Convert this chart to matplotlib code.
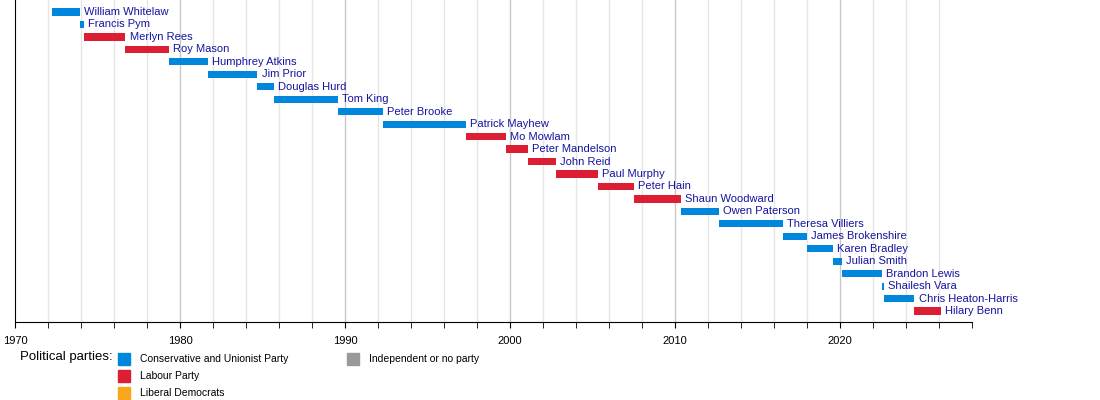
import matplotlib
matplotlib.use("Agg")
import matplotlib.pyplot as plt
from matplotlib.patches import Rectangle

plt.rcParams['font.family'] = ['Liberation Sans', 'DejaVu Sans']

# Secretaries of State for Northern Ireland (decimal years)
names = ["William Whitelaw", "Francis Pym", "Merlyn Rees", "Roy Mason",
         "Humphrey Atkins", "Jim Prior", "Douglas Hurd", "Tom King",
         "Peter Brooke", "Patrick Mayhew", "Mo Mowlam", "Peter Mandelson",
         "John Reid", "Paul Murphy", "Peter Hain", "Shaun Woodward",
         "Owen Paterson", "Theresa Villiers", "James Brokenshire",
         "Karen Bradley", "Julian Smith", "Brandon Lewis", "Shailesh Vara",
         "Chris Heaton-Harris", "Hilary Benn"]
starts = [1972.23, 1973.92, 1974.17, 1976.69, 1979.34, 1981.70, 1984.69,
          1985.67, 1989.56, 1992.28, 1997.34, 1999.78, 2001.07, 2002.81,
          2005.35, 2007.49, 2010.36, 2012.68, 2016.54, 2018.02, 2019.56,
          2020.12, 2022.52, 2022.68, 2024.51]
ends = [1973.92, 1974.17, 1976.69, 1979.34, 1981.70, 1984.69, 1985.67,
        1989.56, 1992.28, 1997.34, 1999.78, 2001.07, 2002.81, 2005.35,
        2007.49, 2010.36, 2012.68, 2016.54, 2018.02, 2019.56, 2020.12,
        2022.52, 2022.68, 2024.51, 2026.1]
parties = ["Con", "Con", "Lab", "Lab", "Con", "Con", "Con", "Con", "Con",
           "Con", "Lab", "Lab", "Lab", "Lab", "Lab", "Lab", "Con", "Con",
           "Con", "Con", "Con", "Con", "Con", "Con", "Lab"]

party_keys = ["Con", "Lab", "LD", "Ind"]
party_labels = ["Conservative and Unionist Party", "Labour Party",
                "Liberal Democrats", "Independent or no party"]
party_colors = {"Con": "#0087DC", "Lab": "#DC1E35", "LD": "#FAA61A",
                "Ind": "#999999"}

fig = plt.figure(figsize=(11, 4), dpi=100)
ax = fig.add_axes([15 / 1100, 1 - 322 / 400, (972 - 15) / 1100, 322 / 400])

# row spacing ~12.46 px, first row centred 12 px below the top
ax.set_xlim(1970, 2028)
ax.set_ylim((322 - 12) / 12.46, -12 / 12.46)

for x in range(1972, 2028, 2):
    ax.axvline(x, color='#c8c8c8' if x % 10 == 0 else '#e6e6e6', lw=1, zorder=0)

for i, (nm, s, e, p) in enumerate(zip(names, starts, ends, parties)):
    ax.barh(i, e - s, left=s, height=0.58, color=party_colors[p], zorder=2)
    ax.text(e + 0.25, i, nm, va='center', ha='left', fontsize=8,
            color='#1414a0')

ax.set_xticks(range(1970, 2030, 10))
ax.set_xticks(range(1970, 2030, 2), minor=True)
ax.tick_params(axis='x', which='both', length=4, labelsize=8, pad=6)
ax.set_yticks([])
for side in ['top', 'right']:
    ax.spines[side].set_visible(False)

# legend
fig.text(20 / 1100, 1 - 357 / 400, "Political parties:", fontsize=9.5,
         va='center', ha='left')
legend_pos = [(118, 359), (118, 376), (118, 393), (347, 359)]
for key, lab, (px, py) in zip(party_keys, party_labels, legend_pos):
    fig.patches.append(Rectangle((px / 1100, 1 - (py + 6) / 400), 12 / 1100,
                                 12 / 400, transform=fig.transFigure,
                                 color=party_colors[key]))
    fig.text((px + 22) / 1100, 1 - py / 400, lab, fontsize=7.5,
             va='center', ha='left')

fig.savefig("out.png", dpi=100)
